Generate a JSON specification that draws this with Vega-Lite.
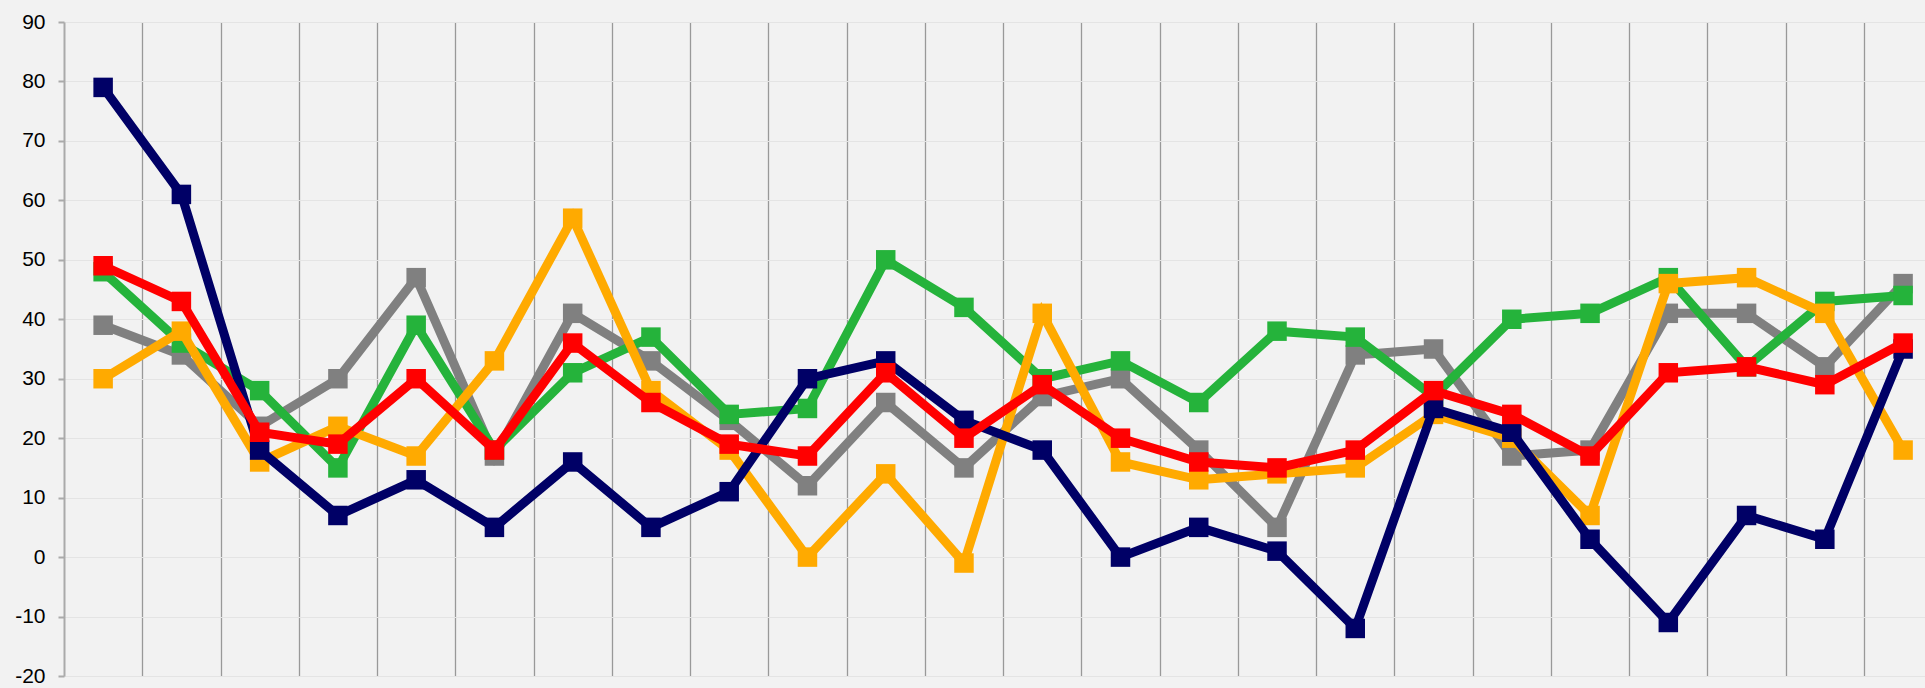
{
  "$schema": "https://vega.github.io/schema/vega-lite/v6.json",
  "width": 1861,
  "height": 654,
  "autosize": {"type": "none"},
  "padding": {"left": 64, "top": 22, "right": 0, "bottom": 12},
  "background": "#f2f2f2",
  "config": {
    "view": {"stroke": null, "fill": "#f2f2f2"},
    "font": "Liberation Sans"
  },
  "datasets": {
    "d": [
      {"i":1,"s":"navy","v":79},{"i":2,"s":"navy","v":61},{"i":3,"s":"navy","v":18},{"i":4,"s":"navy","v":7},{"i":5,"s":"navy","v":13},{"i":6,"s":"navy","v":5},{"i":7,"s":"navy","v":16},{"i":8,"s":"navy","v":5},{"i":9,"s":"navy","v":11},{"i":10,"s":"navy","v":30},{"i":11,"s":"navy","v":33},{"i":12,"s":"navy","v":23},{"i":13,"s":"navy","v":18},{"i":14,"s":"navy","v":0},{"i":15,"s":"navy","v":5},{"i":16,"s":"navy","v":1},{"i":17,"s":"navy","v":-12},{"i":18,"s":"navy","v":25},{"i":19,"s":"navy","v":21},{"i":20,"s":"navy","v":3},{"i":21,"s":"navy","v":-11},{"i":22,"s":"navy","v":7},{"i":23,"s":"navy","v":3},{"i":24,"s":"navy","v":35},
      {"i":1,"s":"green","v":48},{"i":2,"s":"green","v":36},{"i":3,"s":"green","v":28},{"i":4,"s":"green","v":15},{"i":5,"s":"green","v":39},{"i":6,"s":"green","v":18},{"i":7,"s":"green","v":31},{"i":8,"s":"green","v":37},{"i":9,"s":"green","v":24},{"i":10,"s":"green","v":25},{"i":11,"s":"green","v":50},{"i":12,"s":"green","v":42},{"i":13,"s":"green","v":30},{"i":14,"s":"green","v":33},{"i":15,"s":"green","v":26},{"i":16,"s":"green","v":38},{"i":17,"s":"green","v":37},{"i":18,"s":"green","v":27},{"i":19,"s":"green","v":40},{"i":20,"s":"green","v":41},{"i":21,"s":"green","v":47},{"i":22,"s":"green","v":32},{"i":23,"s":"green","v":43},{"i":24,"s":"green","v":44},
      {"i":1,"s":"gray","v":39},{"i":2,"s":"gray","v":34},{"i":3,"s":"gray","v":22},{"i":4,"s":"gray","v":30},{"i":5,"s":"gray","v":47},{"i":6,"s":"gray","v":17},{"i":7,"s":"gray","v":41},{"i":8,"s":"gray","v":33},{"i":9,"s":"gray","v":23},{"i":10,"s":"gray","v":12},{"i":11,"s":"gray","v":26},{"i":12,"s":"gray","v":15},{"i":13,"s":"gray","v":27},{"i":14,"s":"gray","v":30},{"i":15,"s":"gray","v":18},{"i":16,"s":"gray","v":5},{"i":17,"s":"gray","v":34},{"i":18,"s":"gray","v":35},{"i":19,"s":"gray","v":17},{"i":20,"s":"gray","v":18},{"i":21,"s":"gray","v":41},{"i":22,"s":"gray","v":41},{"i":23,"s":"gray","v":32},{"i":24,"s":"gray","v":46},
      {"i":1,"s":"orange","v":30},{"i":2,"s":"orange","v":38},{"i":3,"s":"orange","v":16},{"i":4,"s":"orange","v":22},{"i":5,"s":"orange","v":17},{"i":6,"s":"orange","v":33},{"i":7,"s":"orange","v":57},{"i":8,"s":"orange","v":28},{"i":9,"s":"orange","v":18},{"i":10,"s":"orange","v":0},{"i":11,"s":"orange","v":14},{"i":12,"s":"orange","v":-1},{"i":13,"s":"orange","v":41},{"i":14,"s":"orange","v":16},{"i":15,"s":"orange","v":13},{"i":16,"s":"orange","v":14},{"i":17,"s":"orange","v":15},{"i":18,"s":"orange","v":24},{"i":19,"s":"orange","v":20},{"i":20,"s":"orange","v":7},{"i":21,"s":"orange","v":46},{"i":22,"s":"orange","v":47},{"i":23,"s":"orange","v":41},{"i":24,"s":"orange","v":18},
      {"i":1,"s":"red","v":49},{"i":2,"s":"red","v":43},{"i":3,"s":"red","v":21},{"i":4,"s":"red","v":19},{"i":5,"s":"red","v":30},{"i":6,"s":"red","v":18},{"i":7,"s":"red","v":36},{"i":8,"s":"red","v":26},{"i":9,"s":"red","v":19},{"i":10,"s":"red","v":17},{"i":11,"s":"red","v":31},{"i":12,"s":"red","v":20},{"i":13,"s":"red","v":29},{"i":14,"s":"red","v":20},{"i":15,"s":"red","v":16},{"i":16,"s":"red","v":15},{"i":17,"s":"red","v":18},{"i":18,"s":"red","v":28},{"i":19,"s":"red","v":24},{"i":20,"s":"red","v":17},{"i":21,"s":"red","v":31},{"i":22,"s":"red","v":32},{"i":23,"s":"red","v":29},{"i":24,"s":"red","v":36}
    ]
  },
  "data": {"name": "d"},
  "encoding": {
    "x": {
      "field": "i", "type": "quantitative",
      "scale": {"domain": [0.5, 24.28], "nice": false, "zero": false},
      "axis": {
        "values": [1.5,2.5,3.5,4.5,5.5,6.5,7.5,8.5,9.5,10.5,11.5,12.5,13.5,14.5,15.5,16.5,17.5,18.5,19.5,20.5,21.5,22.5,23.5],
        "labels": false, "ticks": false, "domain": false, "title": null,
        "grid": true, "gridColor": "#999999", "gridWidth": 1.3, "gridOpacity": 1
      }
    },
    "y": {
      "field": "v", "type": "quantitative",
      "scale": {"domain": [-20, 90], "nice": false, "zero": false},
      "axis": {
        "values": [-20,-10,0,10,20,30,40,50,60,70,80,90],
        "labelExpr": "'' + datum.value",
        "title": null,
        "grid": true, "gridColor": "#e4e4e4", "gridWidth": 1, "gridOpacity": 1,
        "domain": true, "domainColor": "#aaaaaa", "domainWidth": 2,
        "ticks": true, "tickColor": "#aaaaaa", "tickWidth": 2, "tickSize": 6,
        "labelFontSize": 21, "labelColor": "#000000", "labelPadding": 13,
        "labelFont": "Liberation Sans"
      }
    },
    "color": {
      "field": "s", "type": "nominal",
      "scale": {"domain": ["gray","green","orange","navy","red"], "range": ["#808080","#25b33b","#ffaa00","#000066","#ff0000"]},
      "legend": null
    }
  },
  "layer": [
    {"transform": [{"filter": "datum.s === 'gray'"}], "mark": {"type": "line", "strokeWidth": 9}},
    {"transform": [{"filter": "datum.s === 'gray'"}], "mark": {"type": "point", "shape": "square", "filled": true, "size": 380, "opacity": 1}},
    {"transform": [{"filter": "datum.s === 'green'"}], "mark": {"type": "line", "strokeWidth": 9}},
    {"transform": [{"filter": "datum.s === 'green'"}], "mark": {"type": "point", "shape": "square", "filled": true, "size": 380, "opacity": 1}},
    {"transform": [{"filter": "datum.s === 'orange'"}], "mark": {"type": "line", "strokeWidth": 9}},
    {"transform": [{"filter": "datum.s === 'orange'"}], "mark": {"type": "point", "shape": "square", "filled": true, "size": 380, "opacity": 1}},
    {"transform": [{"filter": "datum.s === 'navy'"}], "mark": {"type": "line", "strokeWidth": 9}},
    {"transform": [{"filter": "datum.s === 'navy'"}], "mark": {"type": "point", "shape": "square", "filled": true, "size": 380, "opacity": 1}},
    {"transform": [{"filter": "datum.s === 'red'"}], "mark": {"type": "line", "strokeWidth": 9}},
    {"transform": [{"filter": "datum.s === 'red'"}], "mark": {"type": "point", "shape": "square", "filled": true, "size": 380, "opacity": 1}}
  ]
}
